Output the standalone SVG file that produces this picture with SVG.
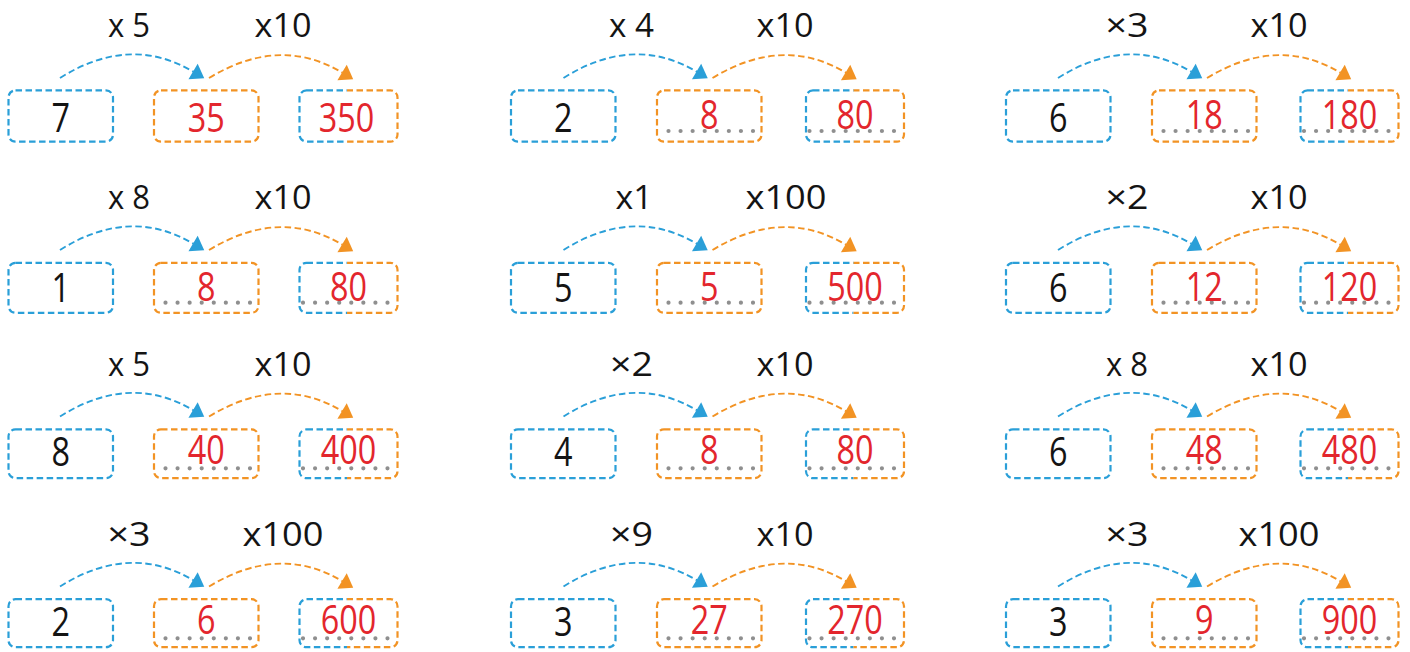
<svg xmlns="http://www.w3.org/2000/svg" width="1410" height="652" viewBox="0 0 1410 652">
<defs>
<style>
.bx{fill:none;stroke-width:2.2;stroke-dasharray:6.5 3.5}
.b{stroke:#2a9fd8}
.o{stroke:#f29324}
.cn{fill:none;stroke-width:1.9;stroke-dasharray:6.5 3.5}
.lb{font-family:"Open Sans","Liberation Sans",Arial,sans-serif;font-weight:380;font-size:33px;fill:#141414;text-anchor:middle}
.nb{font-family:"Open Sans","Liberation Sans",Arial,sans-serif;font-weight:380;font-size:41px;text-anchor:middle}
.k{fill:#141414}
.r{fill:#e3262d}
.dt{stroke:#8f8f8f;stroke-width:4.2;stroke-linecap:round;stroke-dasharray:0 12.07}
</style>
<marker id="ab" markerUnits="userSpaceOnUse" viewBox="-1 -10 15 20" markerWidth="15" markerHeight="20" refX="0" refY="0" orient="auto"><path d="M-0.5,-9 L12.5,0 L-0.5,9 Z" fill="#2a9fd8"/></marker>
<marker id="ao" markerUnits="userSpaceOnUse" viewBox="-1 -10 15 20" markerWidth="15" markerHeight="20" refX="0" refY="0" orient="auto"><path d="M-0.5,-9 L12.5,0 L-0.5,9 Z" fill="#f29324"/></marker>
<clipPath id="cl" clipPathUnits="objectBoundingBox"><rect x="-0.2" y="-0.2" width="0.685" height="1.4"/></clipPath>
<clipPath id="cr" clipPathUnits="objectBoundingBox"><rect x="0.485" y="-0.2" width="0.715" height="1.4"/></clipPath>
</defs>

<g id="connectors">
<g transform="translate(0,0)"><path class="cn b" d="M60,78 Q130,34 193.5,71.8" marker-end="url(#ab)"/><path class="cn o" d="M209,78 Q280,35 342.5,72.8" marker-end="url(#ao)"/></g>
<g transform="translate(503.5,0)"><path class="cn b" d="M60,78 Q130,34 193.5,71.8" marker-end="url(#ab)"/><path class="cn o" d="M209,78 Q280,35 342.5,72.8" marker-end="url(#ao)"/></g>
<g transform="translate(998,0)"><path class="cn b" d="M60,78 Q130,34 193.5,71.8" marker-end="url(#ab)"/><path class="cn o" d="M209,78 Q280,35 342.5,72.8" marker-end="url(#ao)"/></g>
<g transform="translate(0,172)"><path class="cn b" d="M60,78 Q130,34 193.5,71.8" marker-end="url(#ab)"/><path class="cn o" d="M209,78 Q280,35 342.5,72.8" marker-end="url(#ao)"/></g>
<g transform="translate(503.5,172)"><path class="cn b" d="M60,78 Q130,34 193.5,71.8" marker-end="url(#ab)"/><path class="cn o" d="M209,78 Q280,35 342.5,72.8" marker-end="url(#ao)"/></g>
<g transform="translate(998,172)"><path class="cn b" d="M60,78 Q130,34 193.5,71.8" marker-end="url(#ab)"/><path class="cn o" d="M209,78 Q280,35 342.5,72.8" marker-end="url(#ao)"/></g>
<g transform="translate(0,338.5)"><path class="cn b" d="M60,78 Q130,34 193.5,71.8" marker-end="url(#ab)"/><path class="cn o" d="M209,78 Q280,35 342.5,72.8" marker-end="url(#ao)"/></g>
<g transform="translate(503.5,338.5)"><path class="cn b" d="M60,78 Q130,34 193.5,71.8" marker-end="url(#ab)"/><path class="cn o" d="M209,78 Q280,35 342.5,72.8" marker-end="url(#ao)"/></g>
<g transform="translate(998,338.5)"><path class="cn b" d="M60,78 Q130,34 193.5,71.8" marker-end="url(#ab)"/><path class="cn o" d="M209,78 Q280,35 342.5,72.8" marker-end="url(#ao)"/></g>
<g transform="translate(0,508.5)"><path class="cn b" d="M60,78 Q130,34 193.5,71.8" marker-end="url(#ab)"/><path class="cn o" d="M209,78 Q280,35 342.5,72.8" marker-end="url(#ao)"/></g>
<g transform="translate(503.5,508.5)"><path class="cn b" d="M60,78 Q130,34 193.5,71.8" marker-end="url(#ab)"/><path class="cn o" d="M209,78 Q280,35 342.5,72.8" marker-end="url(#ao)"/></g>
<g transform="translate(998,508.5)"><path class="cn b" d="M60,78 Q130,34 193.5,71.8" marker-end="url(#ab)"/><path class="cn o" d="M209,78 Q280,35 342.5,72.8" marker-end="url(#ao)"/></g>
</g>

<g id="labels">
<text class="lb" x="129" y="37" textLength="42" lengthAdjust="spacingAndGlyphs">x 5</text>
<text class="lb" x="283" y="37" textLength="57" lengthAdjust="spacingAndGlyphs">x10</text>
<text class="lb" x="631.5" y="37" textLength="45" lengthAdjust="spacingAndGlyphs">x 4</text>
<text class="lb" x="785" y="37" textLength="57" lengthAdjust="spacingAndGlyphs">x10</text>
<text class="lb" x="1127" y="37" textLength="43" lengthAdjust="spacingAndGlyphs">×3</text>
<text class="lb" x="1279" y="37" textLength="57" lengthAdjust="spacingAndGlyphs">x10</text>

<text class="lb" x="129" y="209" textLength="42" lengthAdjust="spacingAndGlyphs">x 8</text>
<text class="lb" x="283" y="209" textLength="57" lengthAdjust="spacingAndGlyphs">x10</text>
<text class="lb" x="634" y="209" textLength="37" lengthAdjust="spacingAndGlyphs">x1</text>
<text class="lb" x="786" y="209" textLength="81" lengthAdjust="spacingAndGlyphs">x100</text>
<text class="lb" x="1127" y="209" textLength="43" lengthAdjust="spacingAndGlyphs">×2</text>
<text class="lb" x="1279" y="209" textLength="57" lengthAdjust="spacingAndGlyphs">x10</text>

<text class="lb" x="129" y="375.5" textLength="42" lengthAdjust="spacingAndGlyphs">x 5</text>
<text class="lb" x="283" y="375.5" textLength="57" lengthAdjust="spacingAndGlyphs">x10</text>
<text class="lb" x="631.5" y="375.5" textLength="43" lengthAdjust="spacingAndGlyphs">×2</text>
<text class="lb" x="785" y="375.5" textLength="57" lengthAdjust="spacingAndGlyphs">x10</text>
<text class="lb" x="1127" y="375.5" textLength="42" lengthAdjust="spacingAndGlyphs">x 8</text>
<text class="lb" x="1279" y="375.5" textLength="57" lengthAdjust="spacingAndGlyphs">x10</text>

<text class="lb" x="129" y="545.5" textLength="43" lengthAdjust="spacingAndGlyphs">×3</text>
<text class="lb" x="283" y="545.5" textLength="81" lengthAdjust="spacingAndGlyphs">x100</text>
<text class="lb" x="631.5" y="545.5" textLength="43" lengthAdjust="spacingAndGlyphs">×9</text>
<text class="lb" x="785" y="545.5" textLength="57" lengthAdjust="spacingAndGlyphs">x10</text>
<text class="lb" x="1127" y="545.5" textLength="43" lengthAdjust="spacingAndGlyphs">×3</text>
<text class="lb" x="1279" y="545.5" textLength="81" lengthAdjust="spacingAndGlyphs">x100</text>
</g>

<!-- Row 1 -->
<g id="r1p1a"><rect class="bx b" x="8.5" y="90.4" width="104.5" height="51.2" rx="7"/><text class="nb k" transform="translate(60.75,131.5) scale(0.79,1)">7</text></g>
<g id="r1p1b"><rect class="bx o" x="154" y="90.4" width="104.5" height="51.2" rx="7"/><text class="nb r" transform="translate(206.25,131.5) scale(0.79,1)">35</text></g>
<g id="r1p1c"><rect class="bx b" x="299.5" y="90.4" width="98" height="51.2" rx="7" clip-path="url(#cl)"/><rect class="bx o" x="299.5" y="90.4" width="98" height="51.2" rx="7" clip-path="url(#cr)"/><text class="nb r" transform="translate(346.5,131.5) scale(0.79,1)">350</text></g>

<g id="r1p2a"><rect class="bx b" x="511" y="90.4" width="104.5" height="51.2" rx="7"/><text class="nb k" transform="translate(563.25,131.5) scale(0.79,1)">2</text></g>
<g id="r1p2b"><rect class="bx o" x="657" y="90.4" width="104.5" height="51.2" rx="7"/><line class="dt" x1="668.5" y1="131" x2="753" y2="131"/><text class="nb r" transform="translate(709.25,128.5) scale(0.79,1)">8</text></g>
<g id="r1p2c"><rect class="bx b" x="806" y="90.4" width="98" height="51.2" rx="7" clip-path="url(#cl)"/><rect class="bx o" x="806" y="90.4" width="98" height="51.2" rx="7" clip-path="url(#cr)"/><line class="dt" x1="809.5" y1="131" x2="894" y2="131"/><text class="nb r" transform="translate(855,128.5) scale(0.79,1)">80</text></g>

<g id="r1p3a"><rect class="bx b" x="1006" y="90.4" width="104.5" height="51.2" rx="7"/><text class="nb k" transform="translate(1058.25,131.5) scale(0.79,1)">6</text></g>
<g id="r1p3b"><rect class="bx o" x="1152" y="90.4" width="104.5" height="51.2" rx="7"/><line class="dt" x1="1163.5" y1="131" x2="1248" y2="131"/><text class="nb r" transform="translate(1204.25,128.5) scale(0.79,1)">18</text></g>
<g id="r1p3c"><rect class="bx b" x="1300.5" y="90.4" width="98" height="51.2" rx="7" clip-path="url(#cl)"/><rect class="bx o" x="1300.5" y="90.4" width="98" height="51.2" rx="7" clip-path="url(#cr)"/><line class="dt" x1="1304" y1="131" x2="1388.5" y2="131"/><text class="nb r" transform="translate(1349.5,128.5) scale(0.79,1)">180</text></g>

<!-- Row 2 -->
<g id="r2p1a"><rect class="bx b" x="8.5" y="262.8" width="104.5" height="50" rx="7"/><text class="nb k" transform="translate(60.75,302) scale(0.79,1)">1</text></g>
<g id="r2p1b"><rect class="bx o" x="154" y="262.8" width="104.5" height="50" rx="7"/><line class="dt" x1="165.5" y1="302.7" x2="250" y2="302.7"/><text class="nb r" transform="translate(206.25,300.5) scale(0.79,1)">8</text></g>
<g id="r2p1c"><rect class="bx b" x="299.5" y="262.8" width="98" height="50" rx="7" clip-path="url(#cl)"/><rect class="bx o" x="299.5" y="262.8" width="98" height="50" rx="7" clip-path="url(#cr)"/><line class="dt" x1="303" y1="302.7" x2="387.5" y2="302.7"/><text class="nb r" transform="translate(348.5,300.5) scale(0.79,1)">80</text></g>

<g id="r2p2a"><rect class="bx b" x="511" y="262.8" width="104.5" height="50" rx="7"/><text class="nb k" transform="translate(563.25,302) scale(0.79,1)">5</text></g>
<g id="r2p2b"><rect class="bx o" x="657" y="262.8" width="104.5" height="50" rx="7"/><line class="dt" x1="668.5" y1="302.7" x2="753" y2="302.7"/><text class="nb r" transform="translate(709.25,300.5) scale(0.79,1)">5</text></g>
<g id="r2p2c"><rect class="bx b" x="806" y="262.8" width="98" height="50" rx="7" clip-path="url(#cl)"/><rect class="bx o" x="806" y="262.8" width="98" height="50" rx="7" clip-path="url(#cr)"/><line class="dt" x1="809.5" y1="302.7" x2="894" y2="302.7"/><text class="nb r" transform="translate(855,300.5) scale(0.79,1)">500</text></g>

<g id="r2p3a"><rect class="bx b" x="1006" y="262.8" width="104.5" height="50" rx="7"/><text class="nb k" transform="translate(1058.25,302) scale(0.79,1)">6</text></g>
<g id="r2p3b"><rect class="bx o" x="1152" y="262.8" width="104.5" height="50" rx="7"/><line class="dt" x1="1163.5" y1="302.7" x2="1248" y2="302.7"/><text class="nb r" transform="translate(1204.25,300.5) scale(0.79,1)">12</text></g>
<g id="r2p3c"><rect class="bx b" x="1300.5" y="262.8" width="98" height="50" rx="7" clip-path="url(#cl)"/><rect class="bx o" x="1300.5" y="262.8" width="98" height="50" rx="7" clip-path="url(#cr)"/><line class="dt" x1="1304" y1="302.7" x2="1388.5" y2="302.7"/><text class="nb r" transform="translate(1349.5,300.5) scale(0.79,1)">120</text></g>

<!-- Row 3 -->
<g id="r3p1a"><rect class="bx b" x="8.5" y="429.4" width="104.5" height="48.8" rx="7"/><text class="nb k" transform="translate(60.75,466) scale(0.79,1)">8</text></g>
<g id="r3p1b"><rect class="bx o" x="154" y="429.4" width="104.5" height="48.8" rx="7"/><line class="dt" x1="165.5" y1="468.3" x2="250" y2="468.3"/><text class="nb r" transform="translate(206.25,464) scale(0.79,1)">40</text></g>
<g id="r3p1c"><rect class="bx b" x="299.5" y="429.4" width="98" height="48.8" rx="7" clip-path="url(#cl)"/><rect class="bx o" x="299.5" y="429.4" width="98" height="48.8" rx="7" clip-path="url(#cr)"/><line class="dt" x1="303" y1="468.3" x2="387.5" y2="468.3"/><text class="nb r" transform="translate(348.5,464) scale(0.79,1)">400</text></g>

<g id="r3p2a"><rect class="bx b" x="511" y="429.4" width="104.5" height="48.8" rx="7"/><text class="nb k" transform="translate(563.25,466) scale(0.79,1)">4</text></g>
<g id="r3p2b"><rect class="bx o" x="657" y="429.4" width="104.5" height="48.8" rx="7"/><line class="dt" x1="668.5" y1="468.3" x2="753" y2="468.3"/><text class="nb r" transform="translate(709.25,464) scale(0.79,1)">8</text></g>
<g id="r3p2c"><rect class="bx b" x="806" y="429.4" width="98" height="48.8" rx="7" clip-path="url(#cl)"/><rect class="bx o" x="806" y="429.4" width="98" height="48.8" rx="7" clip-path="url(#cr)"/><line class="dt" x1="809.5" y1="468.3" x2="894" y2="468.3"/><text class="nb r" transform="translate(855,464) scale(0.79,1)">80</text></g>

<g id="r3p3a"><rect class="bx b" x="1006" y="429.4" width="104.5" height="48.8" rx="7"/><text class="nb k" transform="translate(1058.25,466) scale(0.79,1)">6</text></g>
<g id="r3p3b"><rect class="bx o" x="1152" y="429.4" width="104.5" height="48.8" rx="7"/><line class="dt" x1="1163.5" y1="468.3" x2="1248" y2="468.3"/><text class="nb r" transform="translate(1204.25,464) scale(0.79,1)">48</text></g>
<g id="r3p3c"><rect class="bx b" x="1300.5" y="429.4" width="98" height="48.8" rx="7" clip-path="url(#cl)"/><rect class="bx o" x="1300.5" y="429.4" width="98" height="48.8" rx="7" clip-path="url(#cr)"/><line class="dt" x1="1304" y1="468.3" x2="1388.5" y2="468.3"/><text class="nb r" transform="translate(1349.5,464) scale(0.79,1)">480</text></g>

<!-- Row 4 -->
<g id="r4p1a"><rect class="bx b" x="8.5" y="599.2" width="104.5" height="48" rx="7"/><text class="nb k" transform="translate(60.75,636) scale(0.79,1)">2</text></g>
<g id="r4p1b"><rect class="bx o" x="154" y="599.2" width="104.5" height="48" rx="7"/><line class="dt" x1="165.5" y1="638.3" x2="250" y2="638.3"/><text class="nb r" transform="translate(206.25,634) scale(0.79,1)">6</text></g>
<g id="r4p1c"><rect class="bx b" x="299.5" y="599.2" width="98" height="48" rx="7" clip-path="url(#cl)"/><rect class="bx o" x="299.5" y="599.2" width="98" height="48" rx="7" clip-path="url(#cr)"/><line class="dt" x1="303" y1="638.3" x2="387.5" y2="638.3"/><text class="nb r" transform="translate(348.5,634) scale(0.79,1)">600</text></g>

<g id="r4p2a"><rect class="bx b" x="511" y="599.2" width="104.5" height="48" rx="7"/><text class="nb k" transform="translate(563.25,636) scale(0.79,1)">3</text></g>
<g id="r4p2b"><rect class="bx o" x="657" y="599.2" width="104.5" height="48" rx="7"/><line class="dt" x1="668.5" y1="638.3" x2="753" y2="638.3"/><text class="nb r" transform="translate(709.25,634) scale(0.79,1)">27</text></g>
<g id="r4p2c"><rect class="bx b" x="806" y="599.2" width="98" height="48" rx="7" clip-path="url(#cl)"/><rect class="bx o" x="806" y="599.2" width="98" height="48" rx="7" clip-path="url(#cr)"/><line class="dt" x1="809.5" y1="638.3" x2="894" y2="638.3"/><text class="nb r" transform="translate(855,634) scale(0.79,1)">270</text></g>

<g id="r4p3a"><rect class="bx b" x="1006" y="599.2" width="104.5" height="48" rx="7"/><text class="nb k" transform="translate(1058.25,636) scale(0.79,1)">3</text></g>
<g id="r4p3b"><rect class="bx o" x="1152" y="599.2" width="104.5" height="48" rx="7"/><line class="dt" x1="1163.5" y1="638.3" x2="1248" y2="638.3"/><text class="nb r" transform="translate(1204.25,634) scale(0.79,1)">9</text></g>
<g id="r4p3c"><rect class="bx b" x="1300.5" y="599.2" width="98" height="48" rx="7" clip-path="url(#cl)"/><rect class="bx o" x="1300.5" y="599.2" width="98" height="48" rx="7" clip-path="url(#cr)"/><line class="dt" x1="1304" y1="638.3" x2="1388.5" y2="638.3"/><text class="nb r" transform="translate(1349.5,634) scale(0.79,1)">900</text></g>
</svg>
